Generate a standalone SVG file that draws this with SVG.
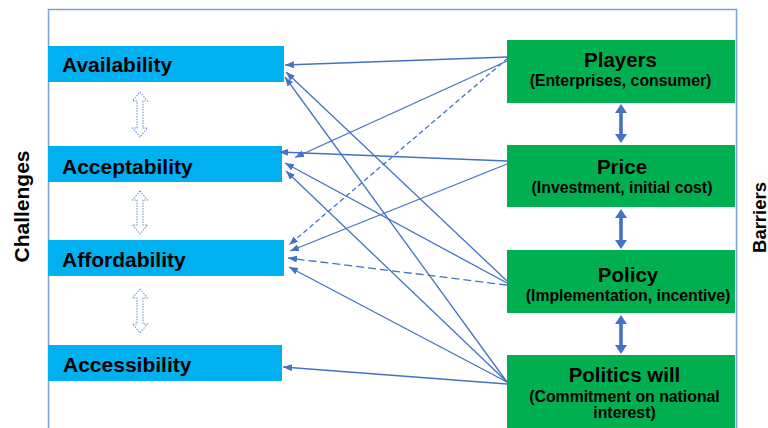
<svg xmlns="http://www.w3.org/2000/svg" width="768" height="428" viewBox="0 0 768 428">
<style>
.lbl{font-family:"Liberation Sans",Arial,sans-serif;font-weight:bold;fill:#000}
.blue{fill:#00B0F0}
.green{fill:#00B050}
.frame{fill:none;stroke:#7F9FD9;stroke-width:1.5}
.con{fill:none;stroke:#4472C4;stroke-width:1.3;marker-end:url(#ah)}
.d1{stroke-dasharray:5 3}
.d2{stroke-dasharray:8 4}
.hollow{fill:none;stroke:#7396D6;stroke-width:1.1;stroke-dasharray:1.5 1.2}
.solidarrow{fill:#4472C4}
</style>
<defs>
<marker id="ah" markerUnits="userSpaceOnUse" markerWidth="10" markerHeight="8" refX="9" refY="3.5" orient="auto">
<path d="M0,0 L9,3.5 L0,7 z" fill="#4472C4"/>
</marker>
</defs>
<rect width="768" height="428" fill="#fff"/>
<path class="frame" d="M48.5,430 L48.5,9.5 L736.5,9.5 L736.5,430"/>
<text class="lbl" font-size="21" transform="translate(28.5,206.5) rotate(-90)" text-anchor="middle">Challenges</text>
<text class="lbl" font-size="18.5" transform="translate(765.5,217.5) rotate(-90)" text-anchor="middle">Barriers</text>

<g id="availability"><rect class="blue" x="48" y="46" width="236" height="36"/><text class="lbl" x="62" y="72" font-size="21">Availability</text></g>
<g id="acceptability"><rect class="blue" x="48" y="146" width="234" height="36"/><text class="lbl" x="62" y="174" font-size="21">Acceptability</text></g>
<g id="affordability"><rect class="blue" x="48" y="240" width="236" height="36"/><text class="lbl" x="62" y="267" font-size="21">Affordability</text></g>
<g id="accessibility"><rect class="blue" x="48" y="345" width="234" height="36"/><text class="lbl" x="63" y="372" font-size="21">Accessibility</text></g>

<g id="players"><rect class="green" x="507" y="40" width="228" height="63"/><text class="lbl" x="620.5" y="67" font-size="20.5" text-anchor="middle">Players</text><text class="lbl" x="620.5" y="86" font-size="15.8" text-anchor="middle">(Enterprises, consumer)</text></g>
<g id="price"><rect class="green" x="507" y="145" width="228" height="62"/><text class="lbl" x="622" y="174" font-size="20.5" text-anchor="middle">Price</text><text class="lbl" x="622" y="193" font-size="15.8" text-anchor="middle">(Investment, initial cost)</text></g>
<g id="policy"><rect class="green" x="507" y="250" width="228" height="63"/><text class="lbl" x="628" y="282" font-size="20.5" text-anchor="middle">Policy</text><text class="lbl" x="628" y="301" font-size="15.8" text-anchor="middle">(Implementation, incentive)</text></g>
<g id="politics-will"><rect class="green" x="507" y="355" width="228" height="75"/><text class="lbl" x="624.5" y="382" font-size="20.5" text-anchor="middle">Politics will</text><text class="lbl" x="624.5" y="402" font-size="15.8" text-anchor="middle">(Commitment on national</text><text class="lbl" x="624.5" y="418" font-size="15.8" text-anchor="middle">interest)</text></g>

<g id="connectors">
<path class="hollow" d="M140,92 L147.5,101 L143,101 L143,128 L147.5,128 L140,137 L132.5,128 L137,128 L137,101 L132.5,101 Z"/>
<path class="hollow" d="M140,191 L147.5,200 L143,200 L143,225 L147.5,225 L140,234 L132.5,225 L137,225 L137,200 L132.5,200 Z"/>
<path class="hollow" d="M140,289 L147.5,298 L143,298 L143,324 L147.5,324 L140,333 L132.5,324 L137,324 L137,298 L132.5,298 Z"/>
<path class="solidarrow" d="M621,104 L627,113 L622.8,113 L622.8,134 L627,134 L621,143 L615,134 L619.2,134 L619.2,113 L615,113 Z"/>
<path class="solidarrow" d="M621,209 L627,218 L622.8,218 L622.8,240 L627,240 L621,249 L615,240 L619.2,240 L619.2,218 L615,218 Z"/>
<path class="solidarrow" d="M621,315 L627,324 L622.8,324 L622.8,345 L627,345 L621,354 L615,345 L619.2,345 L619.2,324 L615,324 Z"/>
<path class="con" d="M508,57 L285,65"/>
<path class="con" d="M507,61 L295,157.5"/>
<path class="con d1" d="M508,58 L289,245"/>
<path class="con" d="M507,161 L279,152"/>
<path class="con" d="M507,164 L290,251"/>
<path class="con" d="M507,281 L286,72"/>
<path class="con" d="M507,283 L285,163"/>
<path class="con d2" d="M507,285 L288,258"/>
<path class="con" d="M507,382 L285,77"/>
<path class="con" d="M507,382 L286,171"/>
<path class="con" d="M507,382 L289,267"/>
<path class="con" d="M507,384 L283,367"/>
</g>
</svg>
